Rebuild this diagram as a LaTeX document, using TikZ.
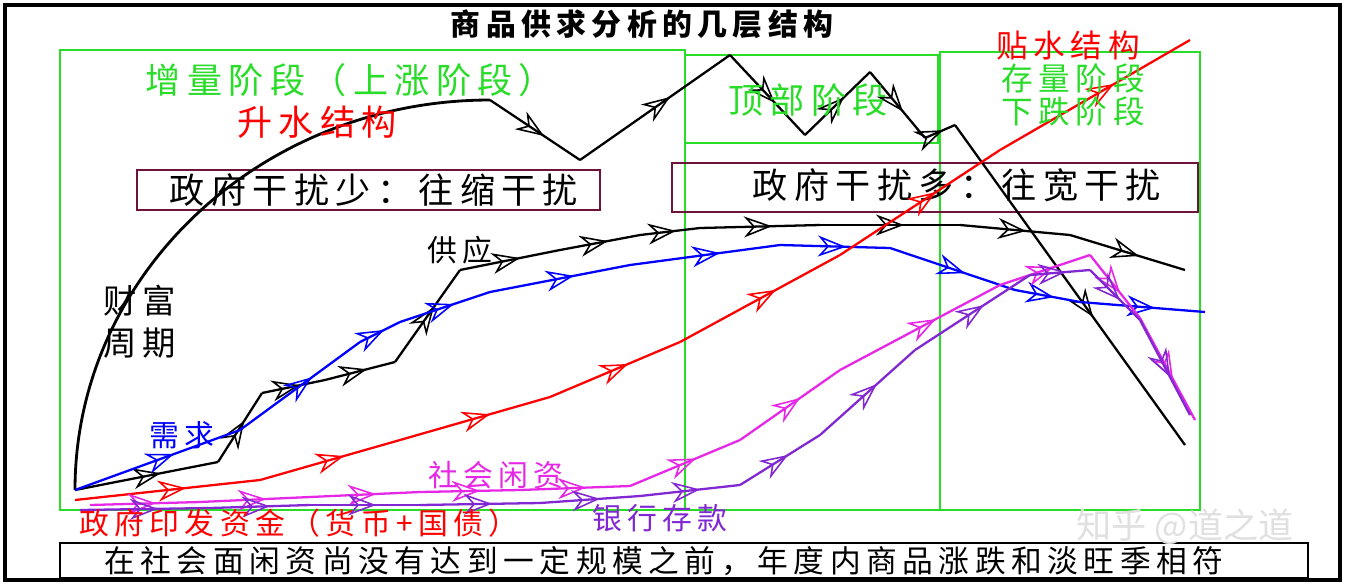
\documentclass[tikz,border=0pt]{standalone}
\usepackage{fontspec}
\setmainfont{Noto Sans CJK SC}
\newfontfamily\spfont[LetterSpace=18]{Noto Sans CJK SC}
\usetikzlibrary{arrows.meta,decorations.markings}
\definecolor{gr}{RGB}{40,220,40}
\definecolor{mg}{RGB}{230,40,230}
\definecolor{pu}{RGB}{130,40,210}
\definecolor{bx}{RGB}{110,20,60}
\tikzset{
 midarr/.style={postaction={decorate},decoration={markings,mark=at position 0.6 with {\arrow[line width=0.9pt]{Stealth[open,length=16pt,width=12pt]}}}},
 gbox/.style={draw=gr,line width=1.6pt},
 pbox/.style={draw=bx,line width=1.6pt},
 lab/.style={font=\spfont\fontsize{20}{22}\selectfont,inner sep=0pt},
 rlab/.style={font=\spfont\fontsize{18}{20}\selectfont,inner sep=0pt},
 sm/.style={inner sep=0pt,font=\spfont\fontsize{17}{19}\selectfont},
}
\newcommand\chainline[4]{%
 \foreach \x/\y [remember=\x as \px (initially #2),remember=\y as \py (initially #3)] in {#4}{%
   \draw[#1,line width=1.3pt,midarr] (\px,\py) -- (\x,\y);}}
\begin{document}
\begin{tikzpicture}[x=0.02cm,y=-0.02cm]
\useasboundingbox (0,0) rectangle (1345,586);
\fill[white] (0,0) rectangle (1345,586);
\draw[line width=2.5pt] (5,5) rectangle (1340,580);
\node[font=\spfont\fontsize{17}{19}\selectfont\bfseries,inner sep=0pt] (title) at (642,24) {商品供求分析的几层结构};
% green boxes
\draw[gbox] (60,50) rectangle (685,510);
\draw[gbox] (685,55) rectangle (938,143);
\draw[gbox] (685,143) rectangle (940,510);
\draw[gbox] (940,52) rectangle (1200,510);
% purple boxes
\draw[pbox] (137,170) rectangle (600,210);
\draw[pbox] (672,163) rectangle (1198,212);
\node[lab] at (374,190) {政府干扰少：往缩干扰};
\node[lab] at (957,185) {政府干扰多：往宽干扰};
% bottom box
\draw[line width=1.6pt] (60,543) rectangle (1308,578);
\node[font=\spfont\fontsize{17.5}{19}\selectfont,inner sep=0pt] at (664,561) {在社会面闲资尚没有达到一定规模之前，年度内商品涨跌和淡旺季相符};
% arc
\draw[line width=1.6pt] (75,490) arc[start angle=180,end angle=270,x radius=415,y radius=390];
\chainline{black}{490}{100}{580/160,730/55,805/135,870/72,925/138,955/125,1185/445}
% supply
\chainline{black}{75}{490}{218/462,262/393,325/380,395/362,460/270,560/250,640/235,700/228,820/225,960/225,1070/235,1185/270}
% demand
\chainline{blue}{75}{490}{240/430,360/342,400/322,490/292,630/265,780/245,890/248,1015/290,1080/302,1205/312}
% red
\chainline{red}{75}{500}{260/480,400/440,550/397,680/342,840/255,1000/150,1190/40}
% magenta
\chainline{mg}{90}{505}{200/502,310/497,420/492,520/490,630/486,740/440,840/370,1000/285,1090/255,1140/318,1195/420}
% purple
\chainline{pu}{80}{510}{210/508,310/505,420/505,540/503,640/496,740/485,820/435,915/350,1030/275,1090/270,1140/320,1190/415}
% labels
\node[lab,text=gr] at (350,80) {增量阶段（上涨阶段）};
\node[lab,text=red] at (317,122) {升水结构};
\node[lab,text=gr] at (808,100) {顶部阶段};
\node[rlab,text=red] at (1068,45) {贴水结构};
\node[rlab,text=gr] at (1073,78) {存量阶段};
\node[rlab,text=gr] at (1073,111) {下跌阶段};
\node[sm] at (460,250) {供应};
\node[align=center,inner sep=0pt,font=\spfont\fontsize{19}{24}\selectfont] at (140,322) {财富\\周期};
\node[sm,text=blue] at (182,435) {需求};
\node[sm,text=mg] at (496,475) {社会闲资};
\node[sm,text=red] at (299,523) {政府印发资金（货币+国债）};
\node[sm,text=pu] at (660,518) {银行存款};
\node[text=black!12,inner sep=0pt,font=\fontsize{20}{22}\selectfont] at (1185,527) {知乎 @道之道};
\end{tikzpicture}
\end{document}
